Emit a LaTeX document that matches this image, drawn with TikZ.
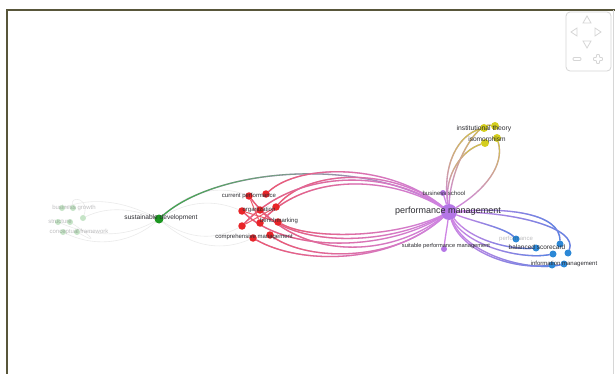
\documentclass[tikz,border=0pt]{standalone}
\usepackage{fontspec}
\setmainfont{Liberation Sans}
\usetikzlibrary{fadings}
\pgfdeclarelayer{background}
\pgfsetlayers{background,main}
\definecolor{kwpurple}{RGB}{180,118,230}
\definecolor{kwred}{RGB}{232,36,40}
\definecolor{kwgreen}{RGB}{28,150,32}
\definecolor{kwyellow}{RGB}{212,206,30}
\definecolor{kwblue}{RGB}{44,136,214}
\definecolor{pmedge}{RGB}{206,132,228}
\definecolor{rededge}{RGB}{236,92,108}
\definecolor{greenedge}{RGB}{60,172,70}
\definecolor{yellowedge}{RGB}{206,198,70}
\definecolor{blueedge}{RGB}{84,136,226}
\definecolor{termtext}{RGB}{45,45,50}
\definecolor{framecol}{RGB}{88,86,58}
\definecolor{navcol}{RGB}{214,214,214}
\tikzfading[name=fade right, left color=transparent!0, right color=transparent!100]
\tikzfading[name=fade left, left color=transparent!100, right color=transparent!0]
\tikzfading[name=fade up, top color=transparent!0, bottom color=transparent!100]
\begin{document}
\begin{tikzpicture}
  [x=1pt,y=-1pt,
   kw/.style={circle,inner sep=0pt,outer sep=0pt,minimum size=#1},
   rednode/.style={kw=7.5pt,fill=kwred},
   yellownode/.style={kw=8pt,fill=kwyellow},
   bluenode/.style={kw=7pt,fill=kwblue},
   purplenode/.style={kw=6pt,fill=kwpurple},
   palenode/.style={kw=6pt,fill=kwgreen,opacity=0.25},
   term/.style={inner sep=0pt,text=termtext,font=\fontsize{6}{7}\selectfont},
   paleterm/.style={term,text opacity=0.3},
   link/.style={line width=1.3pt,draw=pmedge},
   redlink/.style={link,postaction={draw=rededge,path fading=fade right}},
   greenlink/.style={link,postaction={draw=greenedge,path fading=fade right}},
   bluelink/.style={link,postaction={draw=blueedge,path fading=fade left}},
   yellowlink/.style={link,postaction={draw=yellowedge,path fading=fade up}},
   faint/.style={line width=0.6pt,draw=black!8},
   navline/.style={draw=navcol,line width=0.8pt}]
  \useasboundingbox (0,0) rectangle (615,374);
  \draw[framecol,line width=1.5pt] (7,374) -- (7,10) -- (615,10);
  \draw[navcol,line width=0.6pt] (613.5,10) -- (613.5,374);
  % keywords
  \node[kw=16pt,fill=kwpurple] (pm) at (449,212) {};
  \node[purplenode] (bsch) at (443,193) {};
  \node[purplenode] (spm) at (444,249) {};
  \node[kw=9pt,fill=kwgreen] (sd) at (159,219) {};
  \node[yellownode] (inst1) at (484,128) {};
  \node[yellownode] (inst2) at (495,126) {};
  \node[yellownode] (iso1) at (485,143) {};
  \node[yellownode] (iso2) at (497,138) {};
  \node[bluenode] (perf) at (516,239) {};
  \node[bluenode] (bs1) at (536,248) {};
  \node[bluenode] (bs2) at (560,244) {};
  \node[bluenode] (bs3) at (553,254) {};
  \node[bluenode] (bs4) at (568,253) {};
  \node[bluenode] (im1) at (552,265) {};
  \node[bluenode] (im2) at (564,264) {};
  \node[rednode] (r1) at (249,196) {};
  \node[rednode] (r2) at (266,194) {};
  \node[rednode] (r3) at (242,211) {};
  \node[rednode] (r4) at (260,210) {};
  \node[rednode] (r5) at (276,207) {};
  \node[rednode] (r6) at (242,226) {};
  \node[rednode] (r7) at (260,223) {};
  \node[rednode] (r8) at (278,222) {};
  \node[rednode] (r9) at (253,238) {};
  \node[rednode] (r10) at (270,235) {};
  \node[palenode] (g1) at (62,208) {};
  \node[palenode] (g2) at (73,208) {};
  \node[palenode] (g3) at (83,218) {};
  \node[palenode] (g4) at (58,222) {};
  \node[palenode] (g5) at (70,222) {};
  \node[palenode] (g6) at (63,232) {};
  \node[palenode] (g7) at (77,232) {};
  % labels
  \node[term,font=\fontsize{9}{10}\selectfont] (t-pm) at (448,211) {performance management};
  \node[term] (t-bsch) at (444,193) {business school};
  \node[term,font=\fontsize{5.7}{7}\selectfont] (t-spm) at (446,246) {suitable performance management};
  \node[term,font=\fontsize{6.6}{8}\selectfont] (t-sd) at (161,218) {sustainable development};
  \node[term,font=\fontsize{6.8}{8}\selectfont] (t-inst) at (484,129) {institutional theory};
  \node[term,font=\fontsize{6.6}{8}\selectfont] (t-iso) at (487,140) {isomorphism};
  \node[paleterm] (t-perf) at (516,239) {performance};
  \node[term,font=\fontsize{6.5}{8}\selectfont] (t-bs) at (537,247) {balanced scorecard};
  \node[term] (t-im) at (564,264) {information management};
  \node[term] (t-cp) at (249,196) {current performance};
  \node[term] (t-org) at (259,210) {organization};
  \node[term] (t-bm) at (279,221) {benchmarking};
  \node[term] (t-cm) at (254,237) {comprehensive management};
  \node[paleterm] (t-bg) at (74,208) {business growth};
  \node[paleterm] (t-st) at (60,222) {structure};
  \node[paleterm] (t-cf) at (79,232) {conceptual framework};
  % links
  \begin{pgfonlayer}{background}
    \fill[white] (0,0) rectangle (615,374);
    \draw[faint] (g1) .. controls (100,195) and (130,205) .. (sd);
    \draw[faint] (g4) .. controls (100,240) and (130,235) .. (sd);
    \draw[faint] (g6) .. controls (100,250) and (135,240) .. (sd);
    \draw[faint] (g3) .. controls (110,205) and (135,210) .. (sd);
    \draw[faint] (g2) .. controls (70,195) and (90,198) .. (g3);
    \draw[faint] (g5) .. controls (90,235) and (100,245) .. (g7);
    \draw[faint] (sd) .. controls (190,200) and (215,200) .. (r3);
    \draw[faint] (sd) .. controls (190,240) and (215,240) .. (r6);
    \draw[faint] (sd) .. controls (190,190) and (220,185) .. (r1);
    \draw[faint] (sd) .. controls (195,250) and (225,250) .. (r9);
    \draw[greenlink] (sd) .. controls (220,165) and (370,158) .. (pm);
    \draw[redlink] (r2) .. controls (300,163) and (390,163) .. (pm);
    \draw[redlink] (r5) .. controls (310,168) and (395,168) .. (pm);
    \draw[redlink] (r6) .. controls (300,165) and (395,172) .. (pm);
    \draw[redlink] (r7) .. controls (310,170) and (395,178) .. (pm);
    \draw[redlink] (r9) .. controls (300,265) and (390,265) .. (pm);
    \draw[redlink] (r10) .. controls (310,262) and (395,262) .. (pm);
    \draw[redlink] (r1) .. controls (300,262) and (390,258) .. (pm);
    \draw[redlink] (r3) .. controls (290,255) and (390,250) .. (pm);
    \draw[redlink] (r4) .. controls (300,248) and (390,245) .. (pm);
    \draw[redlink] (r8) .. controls (310,240) and (395,238) .. (pm);
    \draw[rededge,line width=1pt] (r3) -- (r8);
    \draw[rededge,line width=1pt] (r6) -- (r5);
    \draw[rededge,line width=1pt] (r1) -- (r7);
    \draw[link] (pm) -- (bsch);
    \draw[link] (pm) .. controls (447,228) and (445,238) .. (spm);
    \draw[yellowlink] (pm) .. controls (444,175) and (462,150) .. (iso1);
    \draw[yellowlink] (pm) .. controls (442,165) and (458,135) .. (inst1);
    \draw[yellowlink] (pm) .. controls (450,170) and (475,122) .. (inst2);
    \draw[yellowlink] (pm) .. controls (485,190) and (505,165) .. (iso2);
    \draw[bluelink] (pm) .. controls (510,207) and (560,214) .. (bs2);
    \draw[bluelink] (pm) .. controls (515,212) and (578,228) .. (bs4);
    \draw[bluelink] (pm) .. controls (475,222) and (505,228) .. (perf);
    \draw[bluelink] (pm) .. controls (470,240) and (510,250) .. (bs1);
    \draw[bluelink] (pm) .. controls (465,245) and (520,260) .. (bs3);
    \draw[bluelink] (pm) .. controls (460,250) and (510,270) .. (im1);
    \draw[bluelink] (pm) .. controls (465,255) and (530,272) .. (im2);
  \end{pgfonlayer}
  % navigation control
  \draw[navline,rounded corners=4pt] (566,12) rectangle (611,71);
  \draw[navline] (583,23) -- (587,16) -- (591,23) -- cycle;
  \draw[navline] (577,28) -- (571,32) -- (577,36) -- cycle;
  \draw[navline] (595,28) -- (601,32) -- (595,36) -- cycle;
  \draw[navline] (583,41) -- (591,41) -- (587,48) -- cycle;
  \draw[navline,rounded corners=1pt] (573,57.5) rectangle (581,60.5);
  \draw[navline,rounded corners=0.8pt] (596.5,54.5) -- (599.5,54.5) -- (599.5,57.5)
    -- (602.5,57.5) -- (602.5,60.5) -- (599.5,60.5) -- (599.5,63.5) -- (596.5,63.5)
    -- (596.5,60.5) -- (593.5,60.5) -- (593.5,57.5) -- (596.5,57.5) -- cycle;
\end{tikzpicture}
\end{document}
